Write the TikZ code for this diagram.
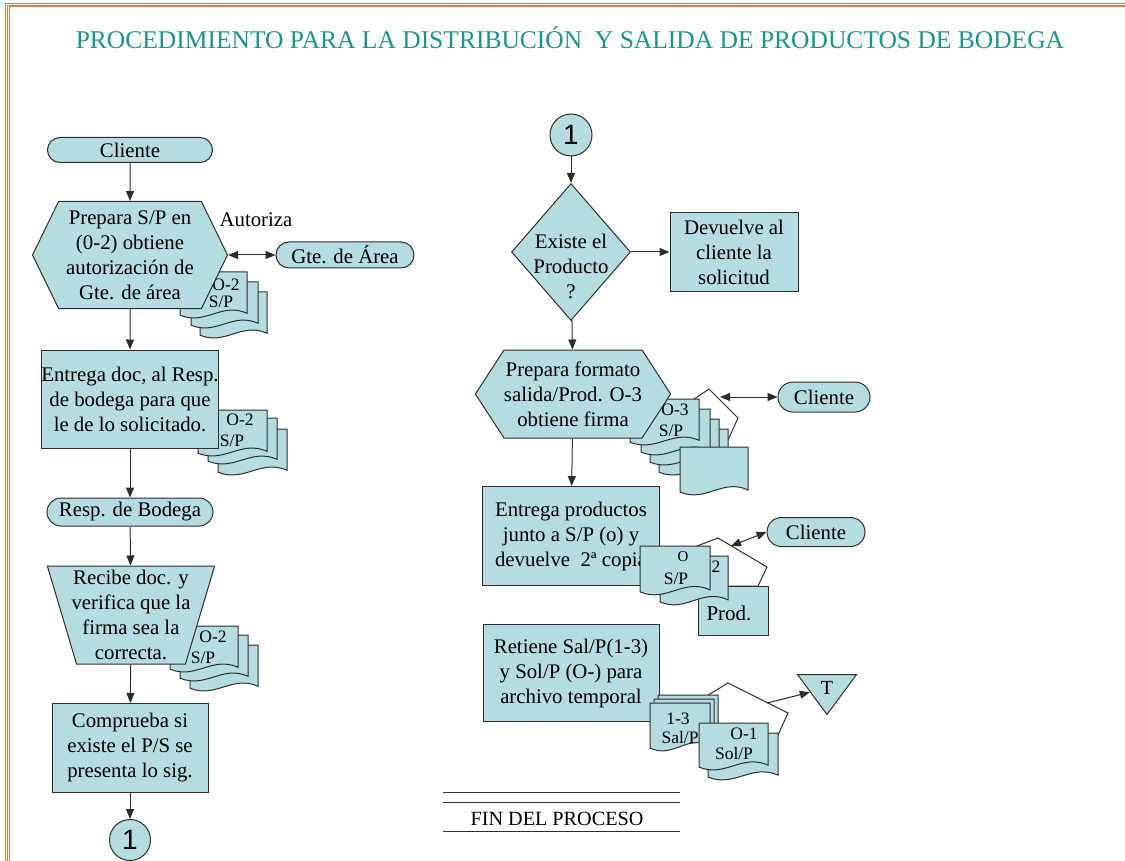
\documentclass[tikz,border=0pt]{standalone}
\usepackage{fontspec}
\setmainfont{Liberation Serif}
\newfontfamily\digitfont{Liberation Sans}
\usetikzlibrary{shapes.geometric,shapes.misc,shapes.symbols,arrows.meta}

\definecolor{boxfill}{RGB}{181,220,224}
\definecolor{titleteal}{RGB}{22,150,140}
\definecolor{frameorange}{RGB}{222,125,60}
\definecolor{edgegray}{RGB}{45,45,45}

\tikzstyle{box}=[rectangle, draw=edgegray, fill=boxfill, line width=1pt, align=center, inner sep=0pt, font=\fontsize{20.8}{25}\selectfont]
\tikzstyle{term}=[rounded rectangle, draw=edgegray, fill=boxfill, line width=1pt, inner sep=0pt, font=\fontsize{20.8}{25}\selectfont]
\tikzstyle{hexa}=[signal, signal to=east and west, draw=edgegray, fill=boxfill, line width=1pt, align=center, inner sep=0pt, font=\fontsize{20.8}{25}\selectfont]
\tikzstyle{trap}=[trapezium, shape border rotate=180, trapezium left angle=72, trapezium right angle=72, trapezium stretches body, draw=edgegray, fill=boxfill, line width=1pt, align=center, inner xsep=-5pt, inner ysep=0pt, font=\fontsize{20.8}{25}\selectfont]
\tikzstyle{decision}=[diamond, draw=edgegray, fill=boxfill, line width=1pt, inner sep=0pt, font=\fontsize{20.8}{25}\selectfont]
\tikzstyle{conn}=[circle, draw=edgegray, fill=boxfill, line width=1pt, inner sep=0pt, font=\digitfont\fontsize{28}{30}\selectfont]
\tikzstyle{tri}=[isosceles triangle, isosceles triangle stretches, shape border rotate=270, draw=edgegray, fill=boxfill, line width=1pt, inner sep=0pt, font=\fontsize{20}{24}\selectfont]
\tikzstyle{doclabel}=[inner sep=0pt, font=\fontsize{17.5}{20}\selectfont]
\tikzstyle{docedge}=[draw=edgegray, fill=boxfill, line width=1pt]
\tikzstyle{backsheet}=[draw=edgegray, fill=white, line width=1pt]
\tikzstyle{flow}=[draw=edgegray, line width=1pt, -{Triangle[length=10pt,width=8pt]}]
\tikzstyle{twoway}=[draw=edgegray, line width=1pt, {Triangle[length=10pt,width=8pt]}-{Triangle[length=10pt,width=8pt]}]
\tikzstyle{frame}=[draw=frameorange, line width=0.9pt]

% sheet with wavy bottom: x, y (top left), width, height
\newcommand{\docpage}[4]{\draw[docedge] (#1,#2) -- ({#1+#3},#2) -- ({#1+#3},{#2+0.86*#4}) .. controls ({#1+0.62*#3},{#2+0.62*#4}) and ({#1+0.38*#3},{#2+1.12*#4}) .. (#1,{#2+0.9*#4}) -- cycle;}
% text set without size, so the shape keeps its own size
\newcommand{\freetext}[2]{\raisebox{#1}[0pt][0pt]{\makebox[0pt]{\begin{tabular}{@{}c@{}}#2\end{tabular}}}}

\begin{document}
\begin{tikzpicture}[x=1pt, y=-1pt]
    \useasboundingbox (0,0) rectangle (1125,861);

    % page frame
    \foreach \i in {0,1,2}
        \draw[frame] ({5.5+1.9*\i},861) -- ({5.5+1.9*\i},{3.3+1.7*\i}) -- (1125,{3.3+1.7*\i});

    \node (title) at (570,49) [anchor=base, text=titleteal, font=\fontsize{25.5}{30}\selectfont] {PROCEDIMIENTO PARA LA DISTRIBUCIÓN\ \ Y SALIDA DE PRODUCTOS DE BODEGA};

    % sheets behind the shapes
    \docpage{200}{292}{67}{48}
    \docpage{191}{282}{67}{48}
    \docpage{180}{272}{67}{48}
    \node (sA1) at (226,285) [doclabel] {O-2};
    \node (sA2) at (221,302) [doclabel] {S/P};

    \docpage{218}{429}{69}{48}
    \docpage{208}{418}{69}{48}
    \docpage{198}{410}{69}{48}
    \node (sB1) at (240,420) [doclabel] {O-2};
    \node (sB2) at (232,441) [doclabel] {S/P};

    \docpage{190}{645}{68}{48}
    \docpage{180}{635}{68}{48}
    \docpage{170}{626}{68}{48}
    \node (sC1) at (213,637) [doclabel] {O-2};
    \node (sC2) at (203,658) [doclabel] {S/P};

    \draw[backsheet] (690,402) -- (709,389) -- (738,418) -- (728,440) -- (700,440) -- cycle;
    \docpage{659}{429}{69}{48}
    \docpage{650}{419}{69}{48}
    \docpage{641}{409}{69}{48}
    \docpage{630}{399}{69}{48}
    \docpage{680}{447}{68}{50}
    \node (sD1) at (675,410) [doclabel] {O-3};
    \node (sD2) at (671,431) [doclabel] {S/P};

    % left column
    \node (cli1) at (130,150) [term, minimum width=165, minimum height=25] {Cliente};
    \node (hex1) at (130,255) [hexa, minimum width=195, minimum height=107, signal pointer angle=128] {Prepara S/P en\\(0-2) obtiene\\autorización de\\Gte. de área};
    \node (gte) at (345,255) [term, minimum width=138, minimum height=26] {Gte. de Área};
    \node (aut) at (256,220) [inner sep=0pt, font=\fontsize{20.8}{25}\selectfont] {Autoriza};
    \node (ent1) at (130,399) [box, minimum width=176, minimum height=98] {Entrega doc, al Resp.\\de bodega para que\\le de lo solicitado.};
    \node (resp) at (130,512) [term, minimum width=166, minimum height=28] {Resp. de Bodega};
    \node (trap1) at (131,615) [trap, minimum height=98] {Recibe doc. y\\verifica que la\\firma sea la\\correcta.};
    \node (comp) at (130,748) [box, minimum width=156, minimum height=89] {Comprueba si\\existe el P/S se\\presenta lo sig.};
    \node (con1) at (130,840) [conn, minimum size=41] {1};

    % right column
    \node (con2) at (571,135) [conn, minimum size=42] {1};
    \node (dia) at (571,252) [decision, minimum width=119, minimum height=137] {\freetext{-22pt}{Existe el\\Producto\\?}};
    \node (dev) at (734,252) [box, minimum width=128, minimum height=79] {Devuelve al\\cliente la\\solicitud};
    \node (hex2) at (573,394) [hexa, minimum width=192, minimum height=88, signal pointer angle=114] {Prepara formato\\salida/Prod. O-3\\obtiene firma};
    \node (cli2) at (824,397) [term, minimum width=92, minimum height=30] {Cliente};
    \node (ent2) at (571,536) [box, minimum width=177, minimum height=99] {Entrega productos\\junto a S/P (o) y\\devuelve\ \ 2ª copia};
    \node (cli3) at (816,532) [term, minimum width=98, minimum height=29] {Cliente};
    \node (ret) at (571,673) [box, minimum width=176, minimum height=97] {Retiene Sal/P(1-3)\\y Sol/P (O-) para\\archivo temporal};
    \node (tT) at (827,688) [tri, minimum width=59, minimum height=40] {T};

    % sheets in front of the shapes
    \draw[backsheet] (697,546) -- (718,538) -- (767,567) -- (758,586) -- (700,586) -- cycle;
    \draw[docedge] (698,586) rectangle (768,635);
    \docpage{660}{556}{68}{51}
    \docpage{640}{546}{70}{51}
    \node (sE1) at (716,567) [doclabel] {2};
    \node (sE2) at (683,557) [doclabel, font=\fontsize{15}{18}\selectfont] {O};
    \node (sE3) at (676,579) [doclabel] {S/P};
    \node (sE4) at (729,613) [doclabel, font=\fontsize{21}{24}\selectfont] {Prod.};

    \draw[backsheet] (700,700) -- (728,683) -- (788,713) -- (778,735) -- (705,735) -- cycle;
    \docpage{658}{695}{60}{50}
    \docpage{654}{699}{60}{50}
    \docpage{650}{703}{60}{50}
    \node (sF1) at (678,719) [doclabel] {1-3};
    \node (sF2) at (680,738) [doclabel] {Sal/P};
    \docpage{708}{733}{70}{49}
    \docpage{699}{723}{69}{49}
    \node (sF3) at (744,734) [doclabel] {O-1};
    \node (sF4) at (734,754) [doclabel] {Sol/P};

    \coordinate (w1) at (720,397);
    \coordinate (w2) at (731,546);
    \coordinate (w3) at (767,703);

    % connectors
    \draw[flow] (cli1) -- (hex1);
    \draw[flow] (hex1) -- (ent1);
    \draw[flow] (ent1) -- (resp);
    \draw[flow] (resp) -- (trap1);
    \draw[flow] (trap1) -- (comp);
    \draw[flow] (comp) -- (con1);
    \draw[twoway] (hex1.east) -- (gte.west);

    \draw[flow] (con2) -- (dia);
    \draw[flow] (dia) -- (dev);
    \draw[flow] (dia) -- (hex2);
    \draw[flow] (hex2) -- (ent2);
    \draw[twoway] (w1) -- (cli2.west);
    \draw[twoway] (w2) -- (cli3.west);
    \draw[flow] (w3) -- (tT);

    % end of process
    \draw[edgegray, line width=1pt] (443,792) -- (680,792);
    \draw[edgegray, line width=1pt] (443,802) -- (680,802);
    \draw[edgegray, line width=1pt] (443,831) -- (680,831);
    \node (fin) at (557,825) [anchor=base, inner sep=0pt, font=\fontsize{20.2}{24}\selectfont] {FIN DEL PROCESO};
\end{tikzpicture}
\end{document}
